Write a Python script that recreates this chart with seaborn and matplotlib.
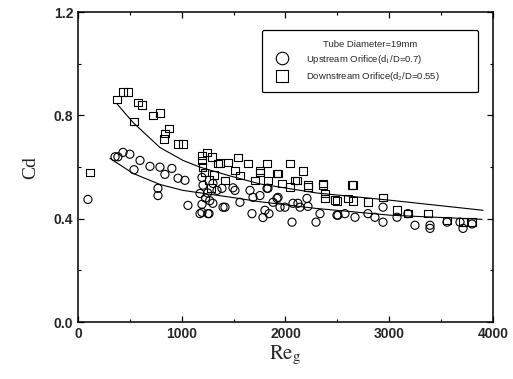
import matplotlib
matplotlib.use("Agg")
import matplotlib.pyplot as plt
from matplotlib.lines import Line2D
import seaborn as sns
import pandas as pd

# ---- data ----
up_re = [96, 357, 385, 434, 500, 540, 598, 694, 790, 838, 905, 964, 1031, 771, 771,
         1060, 1176, 1195, 1195, 1253, 1398, 1195, 1176, 1263, 1677, 1783, 1841, 2063,
         2294, 2333, 2496, 2573, 2670, 2795, 2862, 2940, 2940, 3075, 3180, 3248, 3393,
         3557, 3711, 3798, 3682, 1494, 1561, 1658, 1687, 1822, 1928, 1947, 2072, 2140,
         2217, 2207, 1880, 1754, 1340, 1205, 1301, 1417, 1802, 1918, 2120, 1513, 1388,
         1831, 1995, 2506, 3393, 1230, 1270, 1300, 1250]
up_cd = [0.475, 0.64, 0.64, 0.657, 0.65, 0.59, 0.626, 0.603, 0.60, 0.572, 0.595, 0.557,
         0.549, 0.518, 0.49, 0.452, 0.498, 0.456, 0.425, 0.42, 0.445, 0.56, 0.42, 0.42,
         0.42, 0.405, 0.42, 0.387, 0.387, 0.42, 0.414, 0.42, 0.406, 0.42, 0.406, 0.387,
         0.445, 0.406, 0.42, 0.375, 0.363, 0.387, 0.363, 0.38, 0.387, 0.52, 0.464, 0.51,
         0.483, 0.518, 0.483, 0.445, 0.46, 0.445, 0.448, 0.479, 0.464, 0.49, 0.51, 0.53,
         0.537, 0.445, 0.433, 0.479, 0.46, 0.51, 0.518, 0.518, 0.445, 0.414, 0.375,
         0.48, 0.47, 0.46, 0.50]

down_re = [115, 376, 434, 480, 578, 617, 540, 722, 790, 840, 830, 877, 1012, 964, 1245,
           1195, 1290, 1370, 1195, 1542, 1822, 2043, 2169, 1639, 1754, 1928, 2092, 2217,
           2361, 2641, 1349, 1446, 1513, 1417, 1706, 1831, 1966, 2381, 2477, 2602, 1561,
           1754, 1918, 2043, 2111, 2217, 2361, 2381, 2651, 2496, 2651, 2795, 2940, 3075,
           3180, 3373, 3557, 3711, 3798, 1220, 1260, 1280, 1200, 1310]
down_cd = [0.58, 0.862, 0.89, 0.89, 0.85, 0.84, 0.777, 0.80, 0.81, 0.73, 0.71, 0.75,
           0.69, 0.69, 0.657, 0.645, 0.64, 0.615, 0.626, 0.638, 0.614, 0.614, 0.584,
           0.614, 0.587, 0.576, 0.549, 0.53, 0.537, 0.53, 0.614, 0.618, 0.587, 0.549,
           0.549, 0.549, 0.537, 0.479, 0.472, 0.479, 0.568, 0.58, 0.576, 0.522, 0.549,
           0.522, 0.53, 0.498, 0.53, 0.47, 0.47, 0.464, 0.483, 0.433, 0.42, 0.42, 0.394,
           0.387, 0.387, 0.58, 0.55, 0.52, 0.60, 0.57]

# fitted curves
fit_down_re = [376, 530, 790, 1012, 1176, 1465, 1754, 2300, 3007, 3904]
fit_down_cd = [0.845, 0.773, 0.676, 0.626, 0.600, 0.566, 0.535, 0.500, 0.472, 0.433]
fit_up_re = [308, 530, 790, 1012, 1465, 1754, 2300, 3007, 3894]
fit_up_cd = [0.634, 0.576, 0.533, 0.510, 0.484, 0.466, 0.440, 0.414, 0.398]

x_ticks = [0, 1000, 2000, 3000, 4000]
y_ticks = [0.0, 0.4, 0.8, 1.2]

legend_title = "Tube Diameter=19mm"
label_up = "Upstream Orifice(d$_1$/D=0.7)"
label_down = "Downstream Orifice(d$_2$/D=0.55)"

# ---- plotting ----
sns.set_theme(style="ticks")
plt.rcParams["font.family"] = ["Liberation Sans", "DejaVu Sans"]
plt.rcParams["mathtext.fontset"] = "stix"

fig = plt.figure(figsize=(5.13, 3.79), dpi=100)
ax = fig.add_axes([0.152, 0.150, 0.809, 0.818])

sns.lineplot(x=fit_down_re, y=fit_down_cd, ax=ax, color="black", lw=0.8, sort=False)
sns.lineplot(x=fit_up_re, y=fit_up_cd, ax=ax, color="black", lw=0.8, sort=False)

sns.scatterplot(x=up_re, y=up_cd, ax=ax, marker="o", s=34,
                facecolors="none", edgecolor="black", linewidth=0.8)
sns.scatterplot(x=down_re, y=down_cd, ax=ax, marker="s", s=30,
                facecolors="none", edgecolor="black", linewidth=0.8)
for coll in ax.collections:
    coll.set_facecolor("none")
    coll.set_edgecolor("black")

ax.set_xlim(0, 4000)
ax.set_ylim(0, 1.2)
ax.set_xticks(x_ticks)
ax.set_yticks(y_ticks)
ax.set_xticklabels([str(v) for v in x_ticks], fontweight="bold", fontsize=10)
ax.set_yticklabels([f"{v:.1f}" for v in y_ticks], fontweight="bold", fontsize=10)
ax.set_xticks([500, 1500, 2500, 3500], minor=True)
ax.set_yticks([0.2, 0.6, 1.0], minor=True)
ax.tick_params(which="both", direction="in", top=True, right=True, color="black")
ax.tick_params(which="major", length=4, width=0.9)
ax.tick_params(which="minor", length=2, width=0.8)
for sp in ax.spines.values():
    sp.set_color("black")
    sp.set_linewidth(1.1)

ax.set_xlabel(r"$\mathrm{Re}_\mathrm{g}$", fontsize=15, labelpad=2)
ax.set_ylabel("Cd", fontsize=14, family="Liberation Serif", labelpad=10)

handles = [
    Line2D([], [], marker="o", ls="none", mfc="none", mec="black", ms=9, mew=0.8),
    Line2D([], [], marker="s", ls="none", mfc="none", mec="black", ms=9, mew=0.8),
]
leg = ax.legend(handles, [label_up, label_down], title=legend_title,
                loc="upper left", bbox_to_anchor=(0.443, 0.697, 0.521, 0.245),
                mode="expand", fontsize=6.8, title_fontsize=6.8, frameon=True,
                fancybox=True, edgecolor="black", handletextpad=1.5,
                borderpad=1.0, borderaxespad=0.0, labelspacing=0.45,
                handlelength=2.2)
leg.get_frame().set_linewidth(0.9)
leg.get_frame().set_alpha(1)

fig.savefig("out.png", dpi=100)
